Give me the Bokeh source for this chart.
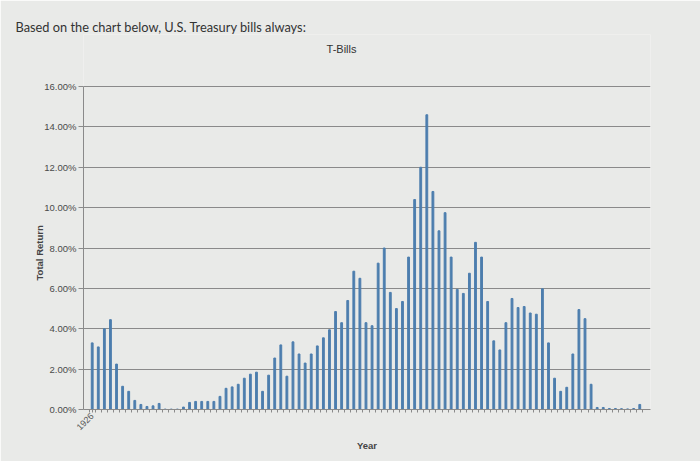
from math import pi
from bokeh.plotting import figure
from bokeh.models import FixedTicker, PrintfTickFormatter, Label, Range1d, Title
from bokeh.embed import file_html
from bokeh.resources import INLINE

years = list(range(1926, 2017))
returns = [
    3.30, 3.10, 4.00, 4.45, 2.25, 1.15, 0.90, 0.45, 0.25, 0.15,   # 1926-1935
    0.18, 0.30, 0.02, 0.02, 0.02, 0.12, 0.35, 0.40, 0.40, 0.40,   # 1936-1945
    0.40, 0.65, 1.05, 1.12, 1.25, 1.55, 1.75, 1.85, 0.90, 1.70,   # 1946-1955
    2.55, 3.20, 1.65, 3.35, 2.75, 2.30, 2.75, 3.15, 3.55, 3.95,   # 1956-1965
    4.85, 4.30, 5.40, 6.85, 6.50, 4.30, 4.15, 7.25, 8.00, 5.80,   # 1966-1975
    5.00, 5.35, 7.55, 10.40, 12.00, 14.60, 10.80, 8.85, 9.75, 7.55,  # 1976-1985
    5.95, 5.75, 6.75, 8.28, 7.55, 5.35, 3.40, 2.95, 4.30, 5.50,   # 1986-1995
    5.05, 5.10, 4.78, 4.72, 5.98, 3.30, 1.55, 0.90, 1.10, 2.75,   # 1996-2005
    4.95, 4.50, 1.25, 0.10, 0.10, 0.05, 0.05, 0.04, 0.03, 0.05,   # 2006-2015
    0.25,                                                          # 2016
]
y_ticks = [0, 2, 4, 6, 8, 10, 12, 14, 16]
x_labelled_years = [1926]
question = "Based on the chart below, U.S. Treasury bills always:"
chart_title = "T-Bills"
y_title = "Total Return"
x_title = "Year"

W, H = 700, 461
frame_l, frame_r, frame_t, frame_b = 83, 650, 34, 409
px_per_year = 6.084
px_per_pct = (frame_b - 86) / 16.0
x0 = years[0] - (91.7 - frame_l) / px_per_year
x1 = x0 + (frame_r - frame_l) / px_per_year
y_top = (frame_b - frame_t) / px_per_pct   # headroom so the chart title sits in the frame

p = figure(width=W, height=H, output_backend="svg", toolbar_location=None,
           x_range=Range1d(x0, x1), y_range=Range1d(0, y_top),
           min_border_left=frame_l, min_border_right=W - frame_r,
           min_border_top=frame_t, min_border_bottom=H - frame_b,
           title=question)
bg = "#e9eae8"
p.border_fill_color = bg
p.border_fill_alpha = 1
p.background_fill_color = bg
p.background_fill_alpha = 1
p.outline_line_color = None

p.title.align = "left"
p.title.offset = 15 - frame_l
p.title.vertical_align = "bottom"
p.title.standoff = 0
p.title.text_font = "Lato"
p.title.text_font_size = "12.8px"
p.title.text_font_style = "normal"
p.title.text_color = "#333333"

p.vbar(x=years, top=returns, width=0.3, color="#4d7eae")

grey = "#8a8a8a"
font = "Liberation Sans"

ya = p.yaxis[0]
ya.bounds = (y_ticks[0], y_ticks[-1])
ya.ticker = FixedTicker(ticks=y_ticks)
ya.formatter = PrintfTickFormatter(format="%.2f%%")
ya.major_label_text_font = font
ya.major_label_text_font_size = "9.5px"
ya.major_label_text_color = "#4a4a4a"
ya.axis_line_color = grey
ya.major_tick_line_color = grey
ya.major_tick_out = 5
ya.major_tick_in = 0
ya.minor_tick_line_color = None
ya.major_label_standoff = 2

p.add_layout(Title(text=y_title, align="left", offset=frame_b - 280,
                   vertical_align="bottom", standoff=-6, text_font=font,
                   text_font_size="9.5px", text_font_style="bold",
                   text_color="#444444"), "left")

xa = p.xaxis[0]
xa.ticker = FixedTicker(ticks=x_labelled_years,
                        minor_ticks=[y - 0.5 for y in years] + [years[-1] + 0.5])
xa.major_label_orientation = pi / 4
xa.major_label_text_font = font
xa.major_label_text_font_size = "9px"
xa.major_label_text_color = "#5a5a5a"
xa.major_label_standoff = 2
xa.axis_line_color = grey
xa.major_tick_line_color = grey
xa.major_tick_out = 3
xa.major_tick_in = 0
xa.minor_tick_line_color = grey
xa.minor_tick_out = 3
xa.minor_tick_in = 0
xa.axis_label = x_title
xa.axis_label_text_font = font
xa.axis_label_text_font_size = "9.5px"
xa.axis_label_text_font_style = "bold"
xa.axis_label_text_color = "#444444"
xa.axis_label_standoff = 4

p.xgrid.visible = False
p.ygrid.ticker = FixedTicker(ticks=y_ticks)
p.ygrid.grid_line_color = grey
p.ygrid.grid_line_width = 1.2

p.add_layout(Label(x=x0 + (341 - frame_l) / px_per_year,
                   y=(frame_b - 48) / px_per_pct, text=chart_title,
                   text_font=font, text_font_size="11px", text_color="#333333",
                   text_baseline="middle", text_align="center"))

open("out.html", "w").write(file_html(p, INLINE))
